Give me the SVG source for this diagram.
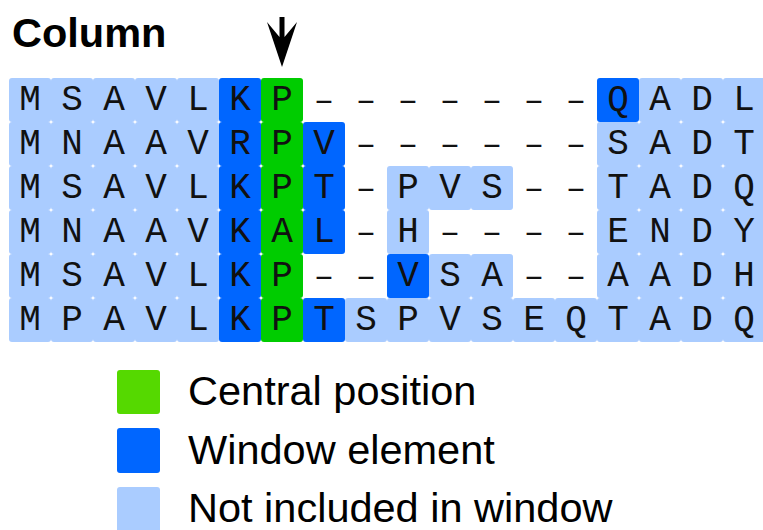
<svg xmlns="http://www.w3.org/2000/svg" width="763" height="530" viewBox="0 0 763 530">
<style>
.lb{fill:#aaccff}
.db{fill:#0066ff}
.gr{fill:#00cc00}
.aa{font-family:"Courier New","Nimbus Mono PS","FreeMono","Liberation Mono",monospace;font-size:36px;fill:#111;text-anchor:middle}
.ds{font-family:"Liberation Mono","Courier New",monospace;font-size:34px;fill:#111;text-anchor:middle}
.lg{font-family:"Liberation Sans",Arial,sans-serif;font-size:41.5px;fill:#000}
.ttl{font-family:"Liberation Sans",Arial,sans-serif;font-size:41.5px;font-weight:bold;fill:#000}
</style>
<rect width="763" height="530" fill="#fff"/>
<text class="ttl" x="12" y="47">Column</text>
<g id="connectors">
<polygon points="279.5,17 284.5,17 284.5,37 297,22 282,67 267,22 279.5,37" fill="#000"/>
</g>
<g id="cells">
<rect class="lb" x="9" y="78" width="42" height="44" rx="3"/><rect class="lb" x="51" y="78" width="42" height="44" rx="3"/><rect class="lb" x="93" y="78" width="42" height="44" rx="3"/><rect class="lb" x="135" y="78" width="42" height="44" rx="3"/><rect class="lb" x="177" y="78" width="42" height="44" rx="3"/>
<rect class="db" x="219" y="78" width="42" height="44" rx="3"/><rect class="gr" x="261" y="78" width="42" height="44" rx="3"/>
<rect class="db" x="597" y="78" width="42" height="44" rx="3"/><rect class="lb" x="639" y="78" width="42" height="44" rx="3"/><rect class="lb" x="681" y="78" width="42" height="44" rx="3"/><rect class="lb" x="723" y="78" width="42" height="44" rx="3"/>
<rect class="lb" x="9" y="122" width="42" height="44" rx="3"/><rect class="lb" x="51" y="122" width="42" height="44" rx="3"/><rect class="lb" x="93" y="122" width="42" height="44" rx="3"/><rect class="lb" x="135" y="122" width="42" height="44" rx="3"/><rect class="lb" x="177" y="122" width="42" height="44" rx="3"/>
<rect class="db" x="219" y="122" width="42" height="44" rx="3"/><rect class="gr" x="261" y="122" width="42" height="44" rx="3"/><rect class="db" x="303" y="122" width="42" height="44" rx="3"/>
<rect class="lb" x="597" y="122" width="42" height="44" rx="3"/><rect class="lb" x="639" y="122" width="42" height="44" rx="3"/><rect class="lb" x="681" y="122" width="42" height="44" rx="3"/><rect class="lb" x="723" y="122" width="42" height="44" rx="3"/>
<rect class="lb" x="9" y="166" width="42" height="44" rx="3"/><rect class="lb" x="51" y="166" width="42" height="44" rx="3"/><rect class="lb" x="93" y="166" width="42" height="44" rx="3"/><rect class="lb" x="135" y="166" width="42" height="44" rx="3"/><rect class="lb" x="177" y="166" width="42" height="44" rx="3"/>
<rect class="db" x="219" y="166" width="42" height="44" rx="3"/><rect class="gr" x="261" y="166" width="42" height="44" rx="3"/><rect class="db" x="303" y="166" width="42" height="44" rx="3"/>
<rect class="lb" x="387" y="166" width="42" height="44" rx="3"/><rect class="lb" x="429" y="166" width="42" height="44" rx="3"/><rect class="lb" x="471" y="166" width="42" height="44" rx="3"/>
<rect class="lb" x="597" y="166" width="42" height="44" rx="3"/><rect class="lb" x="639" y="166" width="42" height="44" rx="3"/><rect class="lb" x="681" y="166" width="42" height="44" rx="3"/><rect class="lb" x="723" y="166" width="42" height="44" rx="3"/>
<rect class="lb" x="9" y="210" width="42" height="44" rx="3"/><rect class="lb" x="51" y="210" width="42" height="44" rx="3"/><rect class="lb" x="93" y="210" width="42" height="44" rx="3"/><rect class="lb" x="135" y="210" width="42" height="44" rx="3"/><rect class="lb" x="177" y="210" width="42" height="44" rx="3"/>
<rect class="db" x="219" y="210" width="42" height="44" rx="3"/><rect class="gr" x="261" y="210" width="42" height="44" rx="3"/><rect class="db" x="303" y="210" width="42" height="44" rx="3"/>
<rect class="lb" x="387" y="210" width="42" height="44" rx="3"/>
<rect class="lb" x="597" y="210" width="42" height="44" rx="3"/><rect class="lb" x="639" y="210" width="42" height="44" rx="3"/><rect class="lb" x="681" y="210" width="42" height="44" rx="3"/><rect class="lb" x="723" y="210" width="42" height="44" rx="3"/>
<rect class="lb" x="9" y="254" width="42" height="44" rx="3"/><rect class="lb" x="51" y="254" width="42" height="44" rx="3"/><rect class="lb" x="93" y="254" width="42" height="44" rx="3"/><rect class="lb" x="135" y="254" width="42" height="44" rx="3"/><rect class="lb" x="177" y="254" width="42" height="44" rx="3"/>
<rect class="db" x="219" y="254" width="42" height="44" rx="3"/><rect class="gr" x="261" y="254" width="42" height="44" rx="3"/>
<rect class="db" x="387" y="254" width="42" height="44" rx="3"/><rect class="lb" x="429" y="254" width="42" height="44" rx="3"/><rect class="lb" x="471" y="254" width="42" height="44" rx="3"/>
<rect class="lb" x="597" y="254" width="42" height="44" rx="3"/><rect class="lb" x="639" y="254" width="42" height="44" rx="3"/><rect class="lb" x="681" y="254" width="42" height="44" rx="3"/><rect class="lb" x="723" y="254" width="42" height="44" rx="3"/>
<rect class="lb" x="9" y="298" width="42" height="44" rx="3"/><rect class="lb" x="51" y="298" width="42" height="44" rx="3"/><rect class="lb" x="93" y="298" width="42" height="44" rx="3"/><rect class="lb" x="135" y="298" width="42" height="44" rx="3"/><rect class="lb" x="177" y="298" width="42" height="44" rx="3"/>
<rect class="db" x="219" y="298" width="42" height="44" rx="3"/><rect class="gr" x="261" y="298" width="42" height="44" rx="3"/><rect class="db" x="303" y="298" width="42" height="44" rx="3"/>
<rect class="lb" x="345" y="298" width="42" height="44" rx="3"/><rect class="lb" x="387" y="298" width="42" height="44" rx="3"/><rect class="lb" x="429" y="298" width="42" height="44" rx="3"/><rect class="lb" x="471" y="298" width="42" height="44" rx="3"/><rect class="lb" x="513" y="298" width="42" height="44" rx="3"/><rect class="lb" x="555" y="298" width="42" height="44" rx="3"/>
<rect class="lb" x="597" y="298" width="42" height="44" rx="3"/><rect class="lb" x="639" y="298" width="42" height="44" rx="3"/><rect class="lb" x="681" y="298" width="42" height="44" rx="3"/><rect class="lb" x="723" y="298" width="42" height="44" rx="3"/>
</g>
<g id="sequences" class="aa">
<text y="110"><tspan x="30">M</tspan><tspan x="72">S</tspan><tspan x="114">A</tspan><tspan x="156">V</tspan><tspan x="198">L</tspan><tspan x="240">K</tspan><tspan x="282">P</tspan><tspan x="618">Q</tspan><tspan x="660">A</tspan><tspan x="702">D</tspan><tspan x="744">L</tspan></text>
<text y="154"><tspan x="30">M</tspan><tspan x="72">N</tspan><tspan x="114">A</tspan><tspan x="156">A</tspan><tspan x="198">V</tspan><tspan x="240">R</tspan><tspan x="282">P</tspan><tspan x="324">V</tspan><tspan x="618">S</tspan><tspan x="660">A</tspan><tspan x="702">D</tspan><tspan x="744">T</tspan></text>
<text y="198"><tspan x="30">M</tspan><tspan x="72">S</tspan><tspan x="114">A</tspan><tspan x="156">V</tspan><tspan x="198">L</tspan><tspan x="240">K</tspan><tspan x="282">P</tspan><tspan x="324">T</tspan><tspan x="408">P</tspan><tspan x="450">V</tspan><tspan x="492">S</tspan><tspan x="618">T</tspan><tspan x="660">A</tspan><tspan x="702">D</tspan><tspan x="744">Q</tspan></text>
<text y="242"><tspan x="30">M</tspan><tspan x="72">N</tspan><tspan x="114">A</tspan><tspan x="156">A</tspan><tspan x="198">V</tspan><tspan x="240">K</tspan><tspan x="282">A</tspan><tspan x="324">L</tspan><tspan x="408">H</tspan><tspan x="618">E</tspan><tspan x="660">N</tspan><tspan x="702">D</tspan><tspan x="744">Y</tspan></text>
<text y="286"><tspan x="30">M</tspan><tspan x="72">S</tspan><tspan x="114">A</tspan><tspan x="156">V</tspan><tspan x="198">L</tspan><tspan x="240">K</tspan><tspan x="282">P</tspan><tspan x="408">V</tspan><tspan x="450">S</tspan><tspan x="492">A</tspan><tspan x="618">A</tspan><tspan x="660">A</tspan><tspan x="702">D</tspan><tspan x="744">H</tspan></text>
<text y="330"><tspan x="30">M</tspan><tspan x="72">P</tspan><tspan x="114">A</tspan><tspan x="156">V</tspan><tspan x="198">L</tspan><tspan x="240">K</tspan><tspan x="282">P</tspan><tspan x="324">T</tspan><tspan x="366">S</tspan><tspan x="408">P</tspan><tspan x="450">V</tspan><tspan x="492">S</tspan><tspan x="534">E</tspan><tspan x="576">Q</tspan><tspan x="618">T</tspan><tspan x="660">A</tspan><tspan x="702">D</tspan><tspan x="744">Q</tspan></text>
</g>
<g id="gaps" class="ds">
<text y="110"><tspan x="324">–</tspan><tspan x="366">–</tspan><tspan x="408">–</tspan><tspan x="450">–</tspan><tspan x="492">–</tspan><tspan x="534">–</tspan><tspan x="576">–</tspan></text>
<text y="154"><tspan x="366">–</tspan><tspan x="408">–</tspan><tspan x="450">–</tspan><tspan x="492">–</tspan><tspan x="534">–</tspan><tspan x="576">–</tspan></text>
<text y="198"><tspan x="366">–</tspan><tspan x="534">–</tspan><tspan x="576">–</tspan></text>
<text y="242"><tspan x="366">–</tspan><tspan x="450">–</tspan><tspan x="492">–</tspan><tspan x="534">–</tspan><tspan x="576">–</tspan></text>
<text y="286"><tspan x="324">–</tspan><tspan x="366">–</tspan><tspan x="534">–</tspan><tspan x="576">–</tspan></text>
</g>
<g id="legend-central">
<rect x="117" y="370" width="43" height="44" rx="3" fill="#55d900"/>
<text class="lg" x="188" y="405">Central position</text>
</g>
<g id="legend-window">
<rect x="117" y="428" width="43" height="45" rx="3" fill="#0066ff"/>
<text class="lg" x="188" y="464">Window element</text>
</g>
<g id="legend-not">
<rect x="117" y="487" width="43" height="50" rx="3" fill="#aaccff"/>
<text class="lg" x="188" y="522">Not included in window</text>
</g>
</svg>
